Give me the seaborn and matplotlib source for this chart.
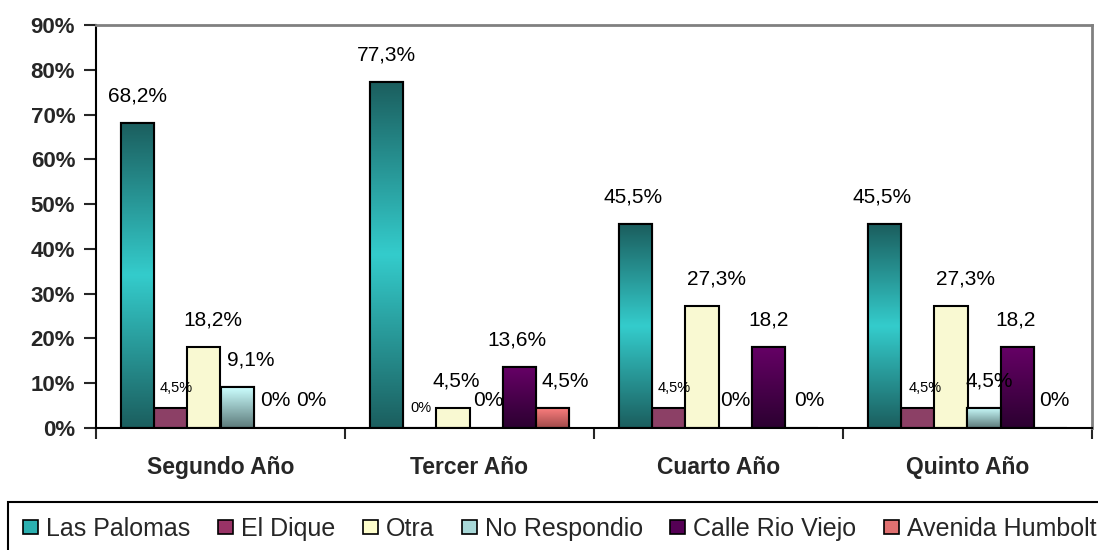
import numpy as np
import pandas as pd
import matplotlib
matplotlib.use("Agg")
import matplotlib.pyplot as plt
import seaborn as sns
from matplotlib.colors import LinearSegmentedColormap
from matplotlib.patches import Rectangle, Patch

# ---------------------------------------------------------------
# Datos (porcentajes)
# ---------------------------------------------------------------
years = ["Segundo Año", "Tercer Año", "Cuarto Año", "Quinto Año"]
series = ["Las Palomas", "El Dique", "Otra", "No Respondio",
          "Calle Rio Viejo", "Avenida Humbolt"]

las_palomas = [68.2, 77.3, 45.5, 45.5]
el_dique = [4.5, 0, 4.5, 4.5]
otra = [18.2, 4.5, 27.3, 27.3]
no_respondio = [9.1, 0, 0, 4.5]
calle_rio_viejo = [0, 13.6, 18.2, 18.2]
avenida_humbolt = [0, 4.5, 0, 0]

# etiquetas tal como aparecen en el original
labels_las_palomas = ["68,2%", "77,3%", "45,5%", "45,5%"]
labels_el_dique = ["4,5%", "0%", "4,5%", "4,5%"]
labels_otra = ["18,2%", "4,5%", "27,3%", "27,3%"]
labels_no_respondio = ["9,1%", "0%", "0%", "4,5%"]
labels_calle = ["0%", "13,6%", "18,2", "18,2"]
labels_avenida = ["0%", "4,5%", "0%", "0%"]

values = [las_palomas, el_dique, otra, no_respondio, calle_rio_viejo, avenida_humbolt]
labels = [labels_las_palomas, labels_el_dique, labels_otra,
          labels_no_respondio, labels_calle, labels_avenida]

# ---------------------------------------------------------------
# Estilo
# ---------------------------------------------------------------
gradients = [
    ["#1b5e5e", "#34cccc", "#1b5e5e"],
    ["#993366"],
    ["#ffffcc"],
    ["#ccffff", "#5c7a7a"],
    ["#660066", "#2b0030"],
    ["#ff8080", "#a04a4a"],
]
legend_colors = ["#2bb0b0", "#993366", "#ffffcc", "#a8d8d8", "#550055", "#e07070"]
# desplazamiento horizontal de cada etiqueta (px)
label_dx = [
    [0, 0, -2, -2],
    [5, 1, 5, 7],
    [9, 3, 15, 15],
    [14, 2, 0, 5],
    [5, -2, 0, -2],
    [8, 13, 8, 4],
]
small_series = {"El Dique"}

sns.set_style("white")
plt.rcParams["font.family"] = ["Liberation Sans", "DejaVu Sans"]

df = pd.DataFrame(
    [(y, s, v[i]) for s, v in zip(series, values) for i, y in enumerate(years)],
    columns=["year", "serie", "valor"],
)

fig = plt.figure(figsize=(10.98, 5.5), dpi=100)
ax = fig.add_axes([96 / 1098, 1 - 428 / 550, (1092 - 96) / 1098, (428 - 25) / 550])

sns.barplot(data=df, x="year", y="valor", hue="serie", hue_order=series,
            order=years, palette=[g[0] if len(g) == 1 else c for g, c in zip(gradients, legend_colors)],
            edgecolor="black", linewidth=1.5, width=0.8, legend=False, ax=ax)

# degradados dentro de las barras
for cont, stops in zip(ax.containers, gradients):
    if len(stops) == 1:
        continue
    cmap = LinearSegmentedColormap.from_list("g", stops)
    for bar in cont:
        h = bar.get_height()
        if h <= 0:
            continue
        x0, w = bar.get_x(), bar.get_width()
        grad = np.linspace(0, 1, 256).reshape(-1, 1)
        im = ax.imshow(grad, cmap=cmap, extent=(x0, x0 + w, 0, h), origin="upper",
                       aspect="auto", interpolation="bilinear",
                       zorder=bar.get_zorder() + 0.1)
        im.set_clip_path(bar)
        ax.add_patch(Rectangle((x0, 0), w, h, fill=False, edgecolor="black",
                               linewidth=1.5, zorder=bar.get_zorder() + 0.2))

# etiquetas de datos
px = 0.72
for s_idx, (cont, labs) in enumerate(zip(ax.containers, labels)):
    small = series[s_idx] in small_series
    for j, bar in enumerate(cont):
        cx = bar.get_x() + bar.get_width() / 2
        ax.annotate(labs[j], (cx, bar.get_height()),
                    xytext=(label_dx[s_idx][j] * px, (20 if small else 27) * px),
                    textcoords="offset points", ha="center", va="center",
                    fontsize=10.5 if small else 15, color="black", zorder=5)

ax.set_aspect("auto")
ax.set_xlim(-0.5, 3.5)
ax.set_ylim(0, 90)
ax.set_yticks(np.arange(0, 91, 10))
ax.set_yticklabels([f"{v}%" for v in range(0, 91, 10)], fontsize=16, fontweight="bold")
ax.tick_params(axis="y", direction="out", length=9, width=1.5, pad=6, left=True)

ax.set_xticks([-0.5, 0.5, 1.5, 2.5, 3.5])
ax.set_xticklabels([])
ax.tick_params(axis="x", which="major", direction="out", length=8, width=1.5, bottom=True)
ax.set_xticks(range(len(years)), minor=True)
ax.set_xticklabels(years, minor=True, fontsize=16.5, fontweight="bold")
ax.tick_params(axis="x", which="minor", length=0, pad=20)
ax.set_xlabel("")
ax.set_ylabel("")
ax.grid(False)

for side in ["left", "bottom"]:
    ax.spines[side].set_color("black")
    ax.spines[side].set_linewidth(1.5)
for side in ["top", "right"]:
    ax.spines[side].set_visible(True)
    ax.spines[side].set_color("#808080")
    ax.spines[side].set_linewidth(2)

handles = [Patch(facecolor=c, edgecolor="black", linewidth=1.2) for c in legend_colors]
leg = fig.legend(handles, series, loc="upper left", bbox_to_anchor=(8 / 1098, 1 - 502 / 550),
                 ncol=6, frameon=True, fancybox=False, fontsize=18, handlelength=0.6,
                 handleheight=0.52, handletextpad=0.32, columnspacing=1.1,
                 borderpad=0.6, borderaxespad=0)
leg.get_frame().set_edgecolor("black")
leg.get_frame().set_linewidth(1.5)
leg.get_frame().set_alpha(1)

fig.savefig("out.png", dpi=100, facecolor="white")
plt.close(fig)
